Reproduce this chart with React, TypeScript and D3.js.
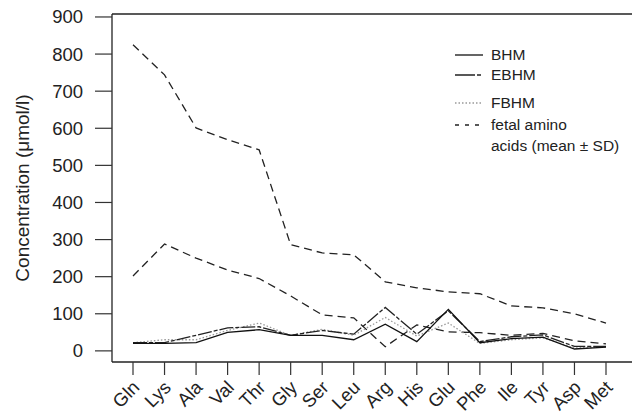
import React from 'react'
import * as d3 from 'd3'

const aminoAcids = ['Gln', 'Lys', 'Ala', 'Val', 'Thr', 'Gly', 'Ser', 'Leu', 'Arg', 'His', 'Glu', 'Phe', 'Ile', 'Tyr', 'Asp', 'Met']
const bhm = [20, 20, 22, 50, 57, 42, 42, 30, 72, 25, 112, 22, 33, 37, 5, 10]
const ebhm = [22, 22, 42, 62, 65, 42, 55, 45, 117, 45, 108, 25, 38, 43, 12, 12]
const fbhm = [22, 30, 30, 55, 75, 42, 58, 42, 90, 40, 75, 20, 30, 35, 8, 10]
const fetalHigh = [825, 744, 601, 569, 542, 286, 264, 259, 186, 170, 159, 154, 121, 116, 100, 75]
const fetalLow = [202, 288, 250, 218, 195, 148, 97, 89, 11, 70, 51, 49, 42, 47, 27, 19]
const yTicks = [0, 100, 200, 300, 400, 500, 600, 700, 800, 900]

const W = 632
const H = 416
const left = 112
const right = 632
const top = 14
const bottom = 362
const font = 'Liberation Sans, Arial, sans-serif'

const App = () => {
  const x = d3.scalePoint().domain(aminoAcids).range([133, 606])
  const y = d3.scaleLinear().domain([-30, 908]).range([bottom, top])

  const line = d3
    .line<number>()
    .x((d, i) => x(aminoAcids[i]) as number)
    .y(d => y(d))

  const series = [
    { values: fetalHigh, stroke: '#222', dash: '8,5', width: 1.3 },
    { values: fetalLow, stroke: '#222', dash: '8,5', width: 1.3 },
    { values: fbhm, stroke: '#999', dash: '1.5,2', width: 1.3 },
    { values: ebhm, stroke: '#222', dash: '14,2,4,2', width: 1.3 },
    { values: bhm, stroke: '#111', dash: null, width: 1.3 },
  ]

  const legend = [
    { label: 'BHM', y: 55, stroke: '#111', dash: null },
    { label: 'EBHM', y: 75, stroke: '#222', dash: '20,2,4,2' },
    { label: 'FBHM', y: 103, stroke: '#999', dash: '1.5,2' },
    { label: 'fetal amino', y: 125, stroke: '#222', dash: '4,6' },
  ]

  return (
    <svg width={W} height={H} style={{ position: 'absolute', left: 0, top: 0, background: '#fff' }} fontFamily={font}>
      {/* frame */}
      <line x1={left} x2={right} y1={top} y2={top} stroke="#222" strokeWidth={1.3} />
      <line x1={left} x2={right} y1={bottom} y2={bottom} stroke="#222" strokeWidth={1.3} />
      <line x1={left} x2={left} y1={top} y2={bottom} stroke="#222" strokeWidth={1.3} />

      {/* y axis */}
      {yTicks.map(t => (
        <g key={t}>
          <line x1={left - 17} x2={left} y1={y(t)} y2={y(t)} stroke="#333" strokeWidth={1.2} />
          <text x={left - 29} y={y(t)} dy="0.35em" textAnchor="end" fontSize={18.5} fill="#222">
            {t}
          </text>
        </g>
      ))}
      <text
        transform={`translate(22, ${(top + bottom) / 2}) rotate(-90)`}
        textAnchor="middle"
        dy="0.35em"
        fontSize={19}
        fill="#222"
      >
        Concentration (μmol/l)
      </text>

      {/* x axis */}
      {aminoAcids.map(a => (
        <g key={a}>
          <line x1={x(a)} x2={x(a)} y1={bottom} y2={bottom + 13} stroke="#333" strokeWidth={1.2} />
          <text
            transform={`translate(${(x(a) as number) + 3}, ${bottom + 22}) rotate(-45)`}
            textAnchor="end"
            dy="0.35em"
            fontSize={18.5}
            fill="#222"
          >
            {a}
          </text>
        </g>
      ))}

      {/* lines */}
      {series.map((s, i) => (
        <path
          key={i}
          d={line(s.values) as string}
          fill="none"
          stroke={s.stroke}
          strokeWidth={s.width}
          strokeDasharray={s.dash ?? undefined}
        />
      ))}

      {/* legend */}
      {legend.map(l => (
        <g key={l.label}>
          <line x1={455} x2={483} y1={l.y} y2={l.y} stroke={l.stroke} strokeWidth={1.3} strokeDasharray={l.dash ?? undefined} />
          <text x={491} y={l.y} dy="0.35em" fontSize={15.5} fill="#222">
            {l.label}
          </text>
        </g>
      ))}
      <text x={491} y={146} dy="0.35em" fontSize={15.5} fill="#222">
        acids (mean ± SD)
      </text>
    </svg>
  )
}

export default App
